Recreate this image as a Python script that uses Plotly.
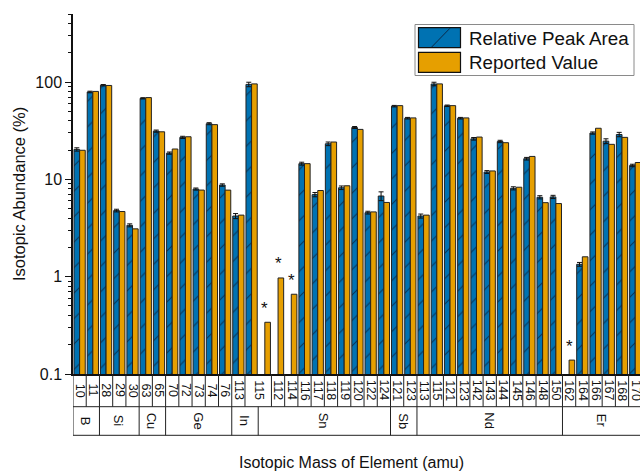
import math
import plotly.graph_objects as go

# ---------------- data ----------------
isotopes = ["10", "11", "28", "29", "30", "63", "65", "70", "72", "73", "74", "76",
            "113", "115",
            "115", "112", "114", "116", "117", "118", "119", "120", "122", "124",
            "121", "123",
            "113", "115", "121", "123", "142", "143", "144", "145", "146", "148", "150",
            "162", "164", "166", "167", "168", "170"]
elements = (["B"] * 2 + ["Si"] * 3 + ["Cu"] * 2 + ["Ge"] * 5 + ["In"] * 2 +
            ["Sn"] * 10 + ["Sb"] * 2 + ["Nd"] * 11 + ["Er"] * 6)

peak_area = [20.3, 79.0, 92.7, 4.78, 3.37, 68.0, 31.3, 18.6, 27.0, 7.95, 37.3, 8.74,
             4.2, 94.5,
             None, None, None, 14.5, 6.97, 23.2, 8.2, 34.1, 4.55, 6.74,
             56.5, 42.5,
             4.2, 95.5, 57.0, 42.5, 26.1, 11.9, 24.5, 8.09, 16.3, 6.54, 6.6,
             None, 1.34, 29.9, 24.7, 28.9, 13.9]
peak_err = [0.8, 1.5, 1.5, 0.15, 0.12, 1.0, 0.8, 0.5, 0.7, 0.2, 0.9, 0.25,
            0.25, 5.0,
            None, None, None, 0.5, 0.35, 1.0, 0.35, 0.8, 0.15, 0.7,
            1.0, 0.8,
            0.2, 4.0, 1.0, 0.8, 0.8, 0.4, 0.7, 0.3, 0.5, 0.25, 0.25,
            None, 0.06, 0.8, 1.4, 1.5, 0.4]
reported = [19.9, 80.1, 92.2, 4.67, 3.10, 69.2, 30.8, 20.5, 27.4, 7.76, 36.5, 7.75,
            4.29, 95.7,
            0.34, 0.97, 0.66, 14.5, 7.68, 24.2, 8.59, 32.6, 4.63, 5.79,
            57.2, 42.8,
            4.29, 95.7, 57.2, 42.8, 27.2, 12.2, 23.8, 8.3, 17.2, 5.76, 5.64,
            0.139, 1.60, 33.5, 22.9, 27.0, 14.9]

series_names = ["Relative Peak Area", "Reported Value"]
x_title = "Isotopic Mass of Element (amu)"
y_title = "Isotopic Abundance (%)"
y_ticks = [0.1, 1, 10, 100]

# ---------------- styling ----------------
BLUE = "#0072B2"
ORANGE = "#E69F00"
FONT = "Liberation Sans, Arial, sans-serif"
W, H = 640, 473
L, R, T, B = 73, 0, 14, 99
PW, PH = W - L - R, H - T - B


def px_x(px):
    return (px - L) / PW


def px_y(py):
    return (H - B - py) / PH


x = list(range(len(isotopes)))

fig = go.Figure()
fig.add_trace(go.Bar(
    x=x, y=peak_area, name=series_names[0], showlegend=False,
    marker=dict(color=BLUE, line=dict(color="#222222", width=1),
                pattern=dict(shape="/", size=18, solidity=0.06,
                             fgcolor="#0b2a48", fgopacity=0.85)),
    error_y=dict(type="data", array=peak_err, color="#111111",
                 thickness=1, width=2.5),
))
fig.add_trace(go.Bar(
    x=x, y=reported, name=series_names[1], showlegend=False,
    marker=dict(color=ORANGE, line=dict(color="#222222", width=1)),
))

shapes = []
annotations = []

# stars above reported-only values
for i, (pa, rv) in enumerate(zip(peak_area, reported)):
    if pa is None and rv is not None:
        annotations.append(dict(x=i, y=math.log10(rv), xref="x", yref="y",
                                text="*", showarrow=False, yshift=14,
                                font=dict(family=FONT, size=17, color="#111111")))

# table below axis
row1_top, row1_bot, row2_bot = 374, 406.7, 435.3
line_style = dict(color="#222222", width=1)
for yy in (row1_bot, row2_bot):
    shapes.append(dict(type="line", xref="paper", yref="paper",
                       x0=0, x1=1, y0=px_y(yy), y1=px_y(yy), line=line_style))
# left edge
shapes.append(dict(type="line", xref="x", yref="paper", x0=-0.5, x1=-0.5,
                   y0=px_y(row1_top), y1=px_y(row2_bot), line=line_style))

# row 1: isotope labels (merge consecutive identical labels)
runs = []
start = 0
for i in range(1, len(isotopes) + 1):
    if i == len(isotopes) or isotopes[i] != isotopes[start]:
        runs.append((start, i - 1))
        start = i
for a, b in runs:
    annotations.append(dict(x=(a + b) / 2, y=px_y((row1_top + row1_bot) / 2),
                            xref="x", yref="paper", text=isotopes[a],
                            showarrow=False, textangle=90,
                            xanchor="center", yanchor="middle",
                            font=dict(family=FONT, size=12.5, color="#111111")))
    if b < len(isotopes) - 1:
        shapes.append(dict(type="line", xref="x", yref="paper",
                           x0=b + 0.5, x1=b + 0.5,
                           y0=px_y(row1_top), y1=px_y(row1_bot), line=line_style))

# row 2: element groups
gruns = []
start = 0
for i in range(1, len(elements) + 1):
    if i == len(elements) or elements[i] != elements[start]:
        gruns.append((start, i - 1))
        start = i
for a, b in gruns:
    annotations.append(dict(x=(a + b) / 2, y=px_y((row1_bot + row2_bot) / 2),
                            xref="x", yref="paper", text=elements[a],
                            showarrow=False, textangle=90,
                            xanchor="center", yanchor="middle",
                            font=dict(family=FONT, size=13, color="#111111")))
    if b < len(elements) - 1:
        shapes.append(dict(type="line", xref="x", yref="paper",
                           x0=b + 0.5, x1=b + 0.5,
                           y0=px_y(row1_bot), y1=px_y(row2_bot), line=line_style))

# axis titles
annotations.append(dict(x=px_x(351), y=px_y(462), xref="paper", yref="paper",
                        text=x_title, showarrow=False, xanchor="center",
                        yanchor="middle",
                        font=dict(family=FONT, size=16, color="#111111")))
annotations.append(dict(x=px_x(19), y=px_y(194), xref="paper", yref="paper",
                        text=y_title, showarrow=False, textangle=-90,
                        xanchor="center", yanchor="middle",
                        font=dict(family=FONT, size=16.5, color="#111111")))

# manual legend
shapes.append(dict(type="rect", xref="paper", yref="paper",
                   x0=px_x(415), x1=px_x(634), y0=px_y(75.5), y1=px_y(24.5),
                   line=dict(color="#8a8a8a", width=1), fillcolor="white"))
sw = [(27.7, 47.7, BLUE), (52.3, 72.3, ORANGE)]
for (t, bt, col), name in zip(sw, series_names):
    shapes.append(dict(type="rect", xref="paper", yref="paper",
                       x0=px_x(418.5), x1=px_x(460.5), y0=px_y(bt), y1=px_y(t),
                       line=dict(color="#111111", width=1.2), fillcolor=col))
    annotations.append(dict(x=px_x(467), y=px_y((t + bt) / 2 + 0.5),
                            xref="paper", yref="paper", text=name,
                            showarrow=False, xanchor="left", yanchor="middle",
                            font=dict(family=FONT, size=18.8, color="#111111")))
shapes.append(dict(type="line", xref="paper", yref="paper",
                   x0=px_x(431.5), x1=px_x(450), y0=px_y(47.2), y1=px_y(28.2),
                   line=dict(color="#0b2a48", width=1)))

minor_vals = [k * 10 ** e for e in range(-1, 3) for k in range(2, 10)]
minor_vals = [v for v in minor_vals if v <= 500]

fig.update_layout(
    width=W, height=H,
    margin=dict(l=L, r=R, t=T, b=B, pad=0),
    paper_bgcolor="white", plot_bgcolor="white",
    barmode="group", bargap=0.15, bargroupgap=0,
    font=dict(family=FONT, size=16, color="#111111"),
    xaxis=dict(range=[-0.5, 42.36], showticklabels=False, ticks="",
               showgrid=False, zeroline=False, showline=True,
               linecolor="#111111", linewidth=1.5),
    yaxis=dict(type="log", range=[-1, math.log10(500)],
               tickvals=y_ticks, ticktext=[f"{v:g}" for v in y_ticks],
               ticks="outside", ticklen=6, tickwidth=1, tickcolor="#111111",
               tickfont=dict(family=FONT, size=16, color="#111111"),
               showgrid=False, zeroline=False, showline=True,
               linecolor="#111111", linewidth=1.5,
               minor=dict(tickvals=minor_vals, ticks="outside", ticklen=3.5,
                          tickwidth=1, tickcolor="#111111", showgrid=False)),
    shapes=shapes,
    annotations=annotations,
    showlegend=False,
)

fig.write_html("out.html",
               config={"displayModeBar": False},
               post_script="document.body.style.margin='0px';"
                           "document.body.style.overflow='hidden';")
